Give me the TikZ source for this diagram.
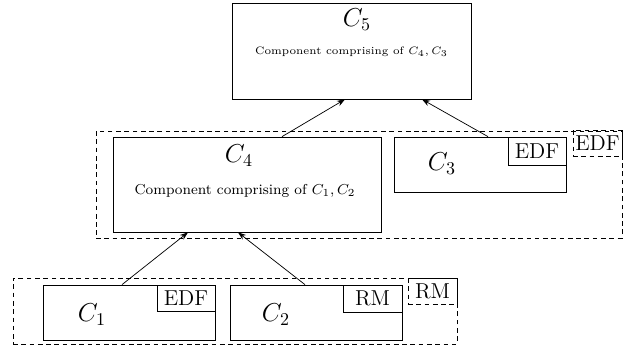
\documentclass[tikz,border=0pt]{standalone}
\usepackage{amsmath,amssymb}
\usepackage{tikz}
\usetikzlibrary{positioning}
\usetikzlibrary{calc}
\usetikzlibrary{fit}
\usetikzlibrary{arrows.meta}
\tikzset{
 comp/.style={draw, inner sep=0pt},
 grp/.style={draw, dash pattern=on 2.6pt off 2pt, inner sep=0pt},
 tag/.style={draw, inner sep=0pt, label={[font=\large]center:#1}},
 dtag/.style={grp, label={[font=\large]center:#1}},
 clbl/.style={font=\Large},
 up/.style={-{Stealth[length=4.5pt,width=3.2pt]}},
}
\begin{document}
\begin{tikzpicture}[x=0.5556pt,y=-0.5556pt]
\useasboundingbox (0,0) rectangle (626,350);
\node[comp, fit={(232,3) (471,99)}] (c5) {};
 \node[clbl] (l5) at (357,20) {$C_5$};
 \node[font=\fontsize{6}{7}\selectfont] (d5) at (351.5,52) {Component comprising of $C_4, C_3$};
\node[grp, fit={(96,131) (622,238)}] (g2) {};
 \node[dtag=EDF, fit={(573,130) (622,156)}] (g2tag) {};
\node[comp, fit={(113,137) (381,232)}] (c4) {};
 \node[clbl] (l4) at (239,156) {$C_4$};
 \node[font=\fontsize{8}{9.5}\selectfont] (d4) at (245,191) {Component comprising of $C_1, C_2$};
\node[comp, fit={(394,137) (566,192)}] (c3) {};
 \node[tag=EDF, fit={(508,137) (566,165)}] (t3) {};
 \node[clbl] (l3) at (442,164) {$C_3$};
\node[grp, fit={(13,278) (457,344)}] (g1) {};
 \node[dtag=RM, fit={(408,278) (457,304)}] (g1tag) {};
\node[comp, fit={(43,285) (215,340)}] (c1) {};
 \node[tag=EDF, fit={(157,285) (215,311)}] (t1) {};
 \node[clbl] (l1) at (92,315) {$C_1$};
\node[comp, fit={(230,285) (402,340)}] (c2) {};
 \node[tag=RM, fit={(343,285) (402,312)}] (t2) {};
 \node[clbl] (l2) at (276,315) {$C_2$};
\draw[up] ($(c1.north)+(-7,0)$) -- ($(c4.south)+(-59,0)$);
\draw[up] ($(c2.north)+(-11,0)$) -- ($(c4.south)+(-9,0)$);
\draw[up] ($(c4.north)+(35,0)$) -- ($(c5.south)+(-6.5,0)$);
\draw[up] ($(c3.north)+(8,0)$) -- ($(c5.south)+(70.5,0)$);
\end{tikzpicture}
\end{document}
